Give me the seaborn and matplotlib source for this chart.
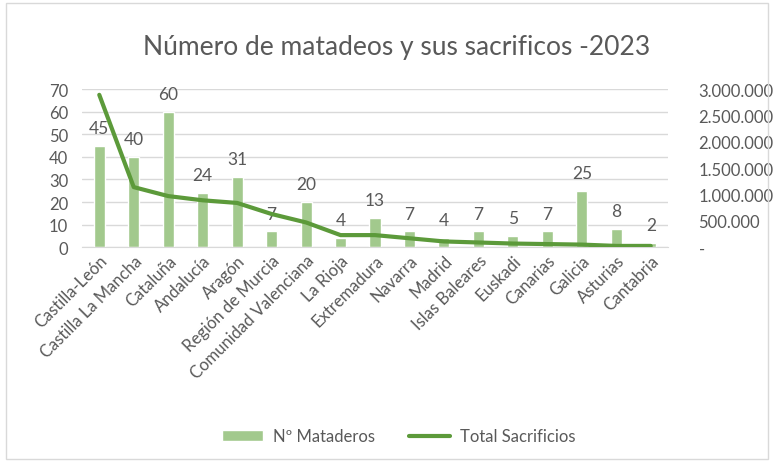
import matplotlib
matplotlib.use("Agg")
import matplotlib.pyplot as plt
import matplotlib.ticker as mticker
import pandas as pd
import seaborn as sns

# Datos
regiones = ["Castilla-León", "Castilla La Mancha", "Cataluña", "Andalucía", "Aragón",
            "Región de Murcia", "Comunidad Valenciana", "La Rioja", "Extremadura",
            "Navarra", "Madrid", "Islas Baleares", "Euskadi", "Canarias", "Galicia",
            "Asturias", "Cantabria"]
mataderos = [45, 40, 60, 24, 31, 7, 20, 4, 13, 7, 4, 7, 5, 7, 25, 8, 2]
sacrificios = [2890000, 1140000, 970000, 890000, 840000, 630000, 470000, 230000,
               230000, 170000, 110000, 90000, 70000, 60000, 50000, 25000, 25000]

df = pd.DataFrame({"Region": regiones, "Mataderos": mataderos, "Sacrificios": sacrificios})

sns.set_style("white")
plt.rcParams["font.family"] = ["Lato", "DejaVu Sans"]

gris = "#595959"
verde_barra = "#A2C98D"
verde_linea = "#5C9A3A"

fig = plt.figure(figsize=(7.74, 4.64), dpi=100)
ax = fig.add_axes([0.106, 0.465, 0.757, 0.341])

sns.barplot(data=df, x="Region", y="Mataderos", color=verde_barra, width=0.32,
            saturation=1, ax=ax, label="Nº Mataderos")
ax.set_ylim(0, 70)
ax.set_yticks(range(0, 71, 10))
ax.yaxis.grid(True, color="#D9D9D9", linewidth=1)
ax.set_axisbelow(True)
for i, v in enumerate(mataderos):
    ax.annotate(str(v), (i, v), xytext=(0, 7), textcoords="offset points",
                ha="center", va="bottom", fontsize=12.5, color=gris)

ax2 = ax.twinx()
sns.lineplot(data=df, x="Region", y="Sacrificios", color=verde_linea, linewidth=3,
             ax=ax2, label="Total Sacrificios", sort=False)
ax2.set_ylim(0, 3000000)
ax2.set_yticks(range(0, 3000001, 500000))
ax2.yaxis.set_major_formatter(mticker.FuncFormatter(
    lambda v, p: "-" if v == 0 else f"{int(v):,}".replace(",", ".")))

for a in (ax, ax2):
    a.set_xlabel("")
    a.set_ylabel("")
    for s in a.spines.values():
        s.set_visible(False)
    a.tick_params(length=0, labelsize=12, labelcolor=gris)
ax.spines["bottom"].set_visible(True)
ax.spines["bottom"].set_color("#D9D9D9")
ax2.tick_params(axis="y", pad=22)
ax.tick_params(axis="y", pad=10)

ax.set_xticks(range(len(regiones)))
ax.set_xticklabels(regiones, rotation=45, ha="right", rotation_mode="anchor",
                   fontsize=12, color=gris)
ax.set_xlim(-0.5, len(regiones) - 0.5)

if ax.get_legend():
    ax.get_legend().remove()
if ax2.get_legend():
    ax2.get_legend().remove()
h1, l1 = ax.get_legend_handles_labels()
h2, l2 = ax2.get_legend_handles_labels()
fig.legend(h1 + h2, l1 + l2, loc="center", bbox_to_anchor=(0.515, 0.058), ncol=2,
           frameon=False, fontsize=12, labelcolor=gris, handlelength=2.5,
           columnspacing=2.0, handleheight=0.6, handletextpad=0.6)

fig.suptitle("Número de matadeos y sus sacrificos -2023", x=0.513, y=0.925,
             fontsize=19, color=gris)

fig.patches.append(plt.Rectangle((0.008, 0.008), 0.984, 0.984, transform=fig.transFigure,
                                 fill=False, edgecolor="#D9D9D9", linewidth=1))

fig.savefig("out.png", dpi=100, facecolor="white")
